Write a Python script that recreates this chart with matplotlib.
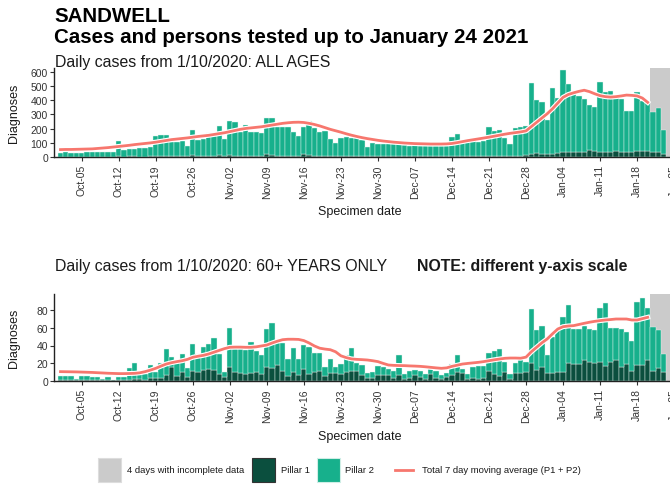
import matplotlib
matplotlib.use("Agg")
import matplotlib.pyplot as plt
import matplotlib.dates as mdates
import matplotlib.patheffects as pe
from matplotlib.patches import Rectangle
from matplotlib.lines import Line2D
import pandas as pd

plt.rcParams["font.family"] = ["Liberation Sans", "DejaVu Sans"]

START = "2020-10-01"

# ALL AGES, Oct 1 .. Jan 23
all_p1 = [4, 4, 3, 3, 4, 5, 5, 5, 4, 4, 4, 6, 5, 6, 6, 5, 5, 6, 8, 8, 8, 7, 7, 7, 6,
          18, 8, 9, 9, 8, 14,
          10, 16, 12, 10, 10, 10, 10, 9, 20, 14, 12, 12, 12, 10, 9, 20, 14, 12, 11, 10,
          9, 8, 9, 9, 9, 8, 8, 6, 7, 8,
          8, 8, 8, 7, 6, 6, 8, 7, 7, 7, 7, 6, 6, 9, 10, 9, 9, 9, 8, 8, 12, 11, 10, 9,
          7, 10, 12, 16, 26, 28, 26,
          22, 26, 28, 35, 38, 36, 38, 40, 50, 42, 38, 40, 40, 42, 40, 38, 40, 45, 44,
          46, 40, 38, 25]
all_p2 = [24, 31, 27, 27, 29, 30, 30, 32, 36, 36, 36, 111, 49, 52, 55, 58, 63, 64,
          139, 148, 148, 98, 103, 105, 76, 176, 116, 119, 159, 144, 203,
          118, 241, 233, 170, 217, 170, 170, 161, 258, 264, 203, 201, 201, 165, 143,
          190, 241, 191, 169, 177, 119, 92, 124, 131, 129, 127, 112, 66, 93, 87,
          85, 85, 82, 83, 79, 76, 80, 73, 71, 73, 75, 74, 76, 131, 152, 106, 109, 111,
          102, 104, 202, 175, 183, 124, 86, 193, 202, 205, 492, 376, 364,
          239, 457, 385, 579, 476, 419, 389, 368, 316, 308, 487, 415, 427, 371, 368,
          289, 287, 410, 353, 339, 280, 307, 168]
# 7 day moving average, Oct 1 .. Jan 20
all_avg = [54, 55, 55, 56, 57, 58, 59, 62, 65, 68, 72, 76, 80, 84,
           89, 93, 97, 101, 106, 112, 118, 124, 128, 132, 136, 141, 146, 150,
           154, 160, 166, 172, 180, 188, 196, 202, 206, 210, 214, 220, 226, 232,
           238, 242, 245, 246, 244, 238, 230, 220, 208, 196, 186, 176, 165, 155,
           146, 138, 131, 125, 119, 114, 110, 106, 103, 100, 98, 96, 95, 94,
           93, 93, 93, 94, 97, 103, 110, 117, 123, 129, 135, 141, 148, 155,
           162, 168, 173, 178, 185, 215, 245, 275, 305, 340, 380, 420, 440, 452,
           462, 470, 460, 445, 432, 425, 422, 425, 430, 436, 434, 430, 415, 385]

# 60+ YEARS, Oct 1 .. Jan 23
old_p1 = [2, 2, 2, 1, 2, 2, 2, 2, 1, 2, 1, 1, 1, 2, 3, 3, 2, 4, 4, 4, 7, 16, 6, 10, 5,
          12, 10, 13, 14, 13, 8,
          5, 16, 10, 9, 8, 9, 10, 8, 16, 15, 18, 12, 6, 10, 7, 14, 8, 10, 11, 6, 9, 9,
          8, 10, 12, 11, 7, 4, 4, 7,
          7, 7, 4, 7, 3, 4, 7, 5, 3, 8, 4, 3, 5, 7, 10, 9, 3, 4, 3, 4, 12, 8, 6, 10, 3,
          9, 9, 10, 21, 13, 16,
          9, 9, 10, 10, 20, 19, 19, 24, 22, 20, 22, 17, 22, 24, 16, 19, 11, 18, 18, 24,
          11, 15, 10]
old_p2 = [4, 4, 4, 2, 4, 4, 3, 3, 2, 3, 1, 4, 4, 13, 17, 5, 6, 14, 6, 17, 29, 11, 16,
          20, 10, 30, 20, 25, 28, 35, 23,
          5, 44, 26, 27, 27, 35, 24, 21, 42, 50, 25, 31, 19, 27, 18, 27, 30, 22, 21,
          10, 16, 7, 11, 19, 25, 10, 11, 5, 6, 10,
          9, 7, 7, 22, 5, 8, 6, 6, 5, 6, 7, 4, 4, 12, 19, 5, 5, 12, 14, 13, 20, 26, 30,
          12, 5, 12, 19, 12, 60, 44, 46,
          20, 40, 47, 62, 65, 39, 39, 38, 36, 37, 60, 71, 38, 36, 42, 36, 34, 71, 75,
          58, 50, 42, 20]
old_avg = [10.8, 10.7, 10.6, 10.5, 10.3, 10.1, 9.9, 9.6, 9.3, 9.0, 8.8, 8.6, 8.6, 8.7,
           8.9, 9.5, 10.8, 12.5, 14.5, 17, 19.3, 20.8, 22, 23, 24.5, 26.8, 28, 29,
           30.5, 32.5, 34.5, 36.5, 38, 38.2, 38.2, 38, 38, 38.5, 39.5, 40.5, 42.8, 44.8,
           46.5, 47, 47, 46.8, 45.5, 42.8, 39.5, 37, 36, 35.3, 33, 28.5, 26.5, 25,
           24.5, 24.2, 23.8, 23, 22, 20, 18.2, 17.8, 17.6, 17.5, 17.2, 17, 16.7, 16.2,
           15.6, 15, 14.5, 15, 16.7, 18, 19.3, 20, 20.6, 21.2, 22, 23, 24, 24.9,
           25.7, 26, 26, 25.8, 27, 33, 38, 43, 47.3, 53, 58.4, 61, 61.8, 62.2,
           63.5, 64.8, 66, 67, 67.8, 68.5, 69, 69.6, 69.6, 69.6, 68.5, 68.5, 70, 71.5]

INCOMPLETE = ("2021-01-20 12:00", "2021-01-24 12:00")

C_P1 = "#0b4f3e"
C_P2 = "#17b08c"
C_AVG = "#f7776e"
C_GREY = "#cbcbcb"

W, H = 670, 485
fig = plt.figure(figsize=(W / 100, H / 100), dpi=100)


def px_axes(left, top, right, bottom):
    return fig.add_axes([left / W, 1 - bottom / H, (right - left) / W, (bottom - top) / H])


def panel(ax, p1, p2, avg, ymax, yticks):
    dates = pd.date_range(START, periods=len(p1))
    avg_dates = pd.date_range(START, periods=len(avg))
    ax.axvspan(pd.Timestamp(INCOMPLETE[0]), pd.Timestamp(INCOMPLETE[1]),
               color=C_GREY, lw=0, zorder=0)
    ax.bar(dates, p1, width=1.0, color=C_P1, edgecolor="#e6f5f0", lw=0.3, zorder=2)
    ax.bar(dates, p2, bottom=p1, width=1.0, color=C_P2, edgecolor="#e6f5f0", lw=0.3,
           zorder=2)
    ax.plot(avg_dates, avg, color=C_AVG, lw=2.0, zorder=3,
            path_effects=[pe.Stroke(linewidth=3.6, foreground="white"), pe.Normal()])
    x0 = pd.Timestamp(START) - pd.Timedelta(days=1.17)
    ax.set_xlim(x0, x0 + pd.Timedelta(days=(720 - 54.3) / 5.29))
    ax.set_ylim(0, ymax)
    ax.set_yticks(yticks)
    ax.xaxis.set_major_locator(mdates.WeekdayLocator(byweekday=mdates.MO))
    ax.xaxis.set_major_formatter(mdates.DateFormatter("%b-%d"))
    ax.tick_params(axis="x", labelrotation=90, labelsize=7.5, length=3, pad=2,
                   colors="#333333")
    ax.tick_params(axis="y", labelsize=7.5, length=3, pad=1.5, colors="#333333")
    for side in ("top", "right"):
        ax.spines[side].set_visible(False)
    for side in ("left", "bottom"):
        ax.spines[side].set_linewidth(1.0)
        ax.spines[side].set_color("#222222")


ax1 = px_axes(54.3, 158.3 - 625 * 0.1427, 720, 158.3)
panel(ax1, all_p1, all_p2, all_avg, 625, [0, 100, 200, 300, 400, 500, 600])
ax2 = px_axes(54.3, 382.3 - 98 * 0.895, 720, 382.3)
panel(ax2, old_p1, old_p2, old_avg, 98, [0, 20, 40, 60, 80])


def ftext(x, y, s, **kw):
    fig.text(x / W, 1 - y / H, s, **kw)


ftext(54, 17, "SANDWELL", fontsize=14.8, fontweight="bold", va="center")
ftext(54, 38, "Cases and persons tested up to January 24 2021", fontsize=14.8,
      fontweight="bold", va="center")
ftext(55, 62, "Daily cases from 1/10/2020: ALL AGES", fontsize=11.4, va="center",
      color="#1a1a1a")
ftext(55, 267, "Daily cases from 1/10/2020: 60+ YEARS ONLY", fontsize=11.4,
      va="center", color="#1a1a1a")
ftext(417, 267, "NOTE: different y-axis scale", fontsize=11.4, fontweight="bold",
      va="center", color="#1a1a1a")
for yc in (113, 338):
    ftext(14, yc, "Diagnoses", fontsize=9, rotation=90, ha="center", va="center",
          color="#1a1a1a")
for yc in (212, 437):
    ftext(360, yc, "Specimen date", fontsize=9, ha="center", va="center",
          color="#1a1a1a")

# legend
ly = 470.5
for x0, fc, ec in ((98, C_GREY, "#dddddd"), (252, C_P1, "#333333"), (317, C_P2, "#cfeee6")):
    fig.add_artist(Rectangle((x0 / W, 1 - (ly + 12) / H), 23 / W, 24 / H,
                             transform=fig.transFigure, facecolor=fc, edgecolor=ec, lw=0.8))
fig.add_artist(Line2D([395 / W, 413 / W], [1 - ly / H, 1 - ly / H],
                      transform=fig.transFigure, color=C_AVG, lw=2.0))
for x0, s in ((127, "4 days with incomplete data"), (281, "Pillar 1"), (345, "Pillar 2"),
              (422, "Total 7 day moving average (P1 + P2)")):
    ftext(x0, ly + 0.5, s, fontsize=6.8, va="center", color="#1a1a1a")

fig.savefig("out.png", dpi=100)
